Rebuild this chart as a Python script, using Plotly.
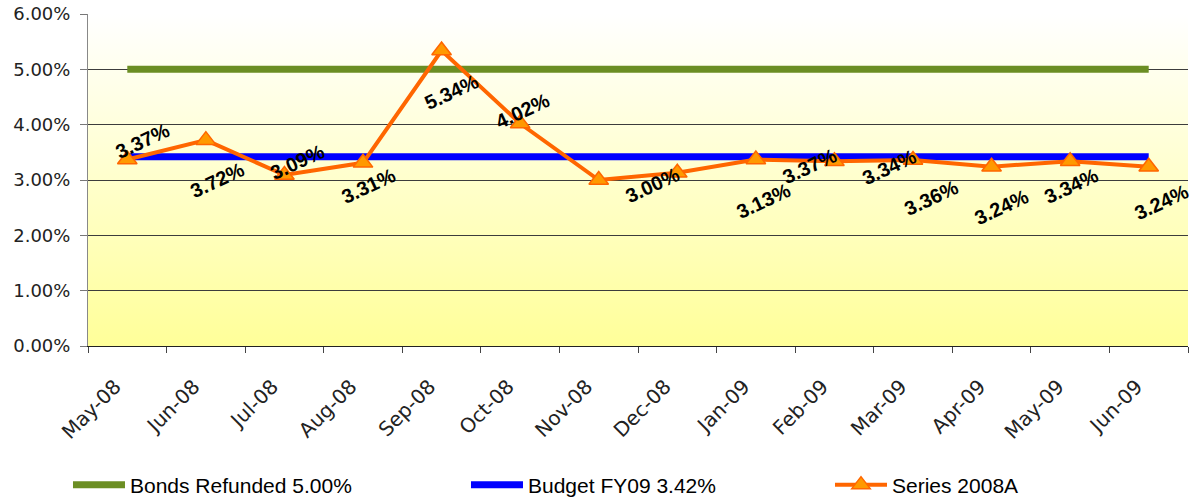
import base64

import plotly.graph_objects as go

# Data -------------------------------------------------------------------------

months = [
    "May-08", "Jun-08", "Jul-08", "Aug-08", "Sep-08", "Oct-08", "Nov-08",
    "Dec-08", "Jan-09", "Feb-09", "Mar-09", "Apr-09", "May-09", "Jun-09",
]
bonds_refunded = [5.00, 5.00, 5.00, 5.00, 5.00, 5.00, 5.00,
                  5.00, 5.00, 5.00, 5.00, 5.00, 5.00, 5.00]
budget_fy09 = [3.42, 3.42, 3.42, 3.42, 3.42, 3.42, 3.42,
               3.42, 3.42, 3.42, 3.42, 3.42, 3.42, 3.42]
series_2008a = [3.37, 3.72, 3.09, 3.31, 5.34, 4.02, 3.00,
                3.13, 3.37, 3.34, 3.36, 3.24, 3.34, 3.24]
y_ticks = [0, 1, 2, 3, 4, 5, 6]
y_tick_labels = ["0.00%", "1.00%", "2.00%", "3.00%", "4.00%", "5.00%", "6.00%"]

# Visual tokens ----------------------------------------------------------------

_FONT_AXIS = "DejaVu Sans, Verdana, sans-serif"
_FONT_LABEL = "Arial, Liberation Sans, sans-serif"
_GREEN = "#6b8e23"
_BLUE = "#0000ff"
_ORANGE = "#ff6600"
_ORANGE_FILL = "#ff9900"
_GRID = "#3c3c3c"

# Excel placed the rotated data labels a bit everywhere; pixel shifts (dx, dy)
_LABEL_SHIFTS = [
    (15, -19), (12, 40), (13, -13), (5, 23), (10, 41), (2, -13), (54, 5),
    (86, 28), (54, 6), (55, 6), (18, 38), (10, 40), (1, 25), (13, 35),
]

# plot-area gradient, white at the top to pale yellow at the bottom
_bg_svg = (
    '<svg xmlns="http://www.w3.org/2000/svg" width="100" height="100" '
    'preserveAspectRatio="none"><defs><linearGradient id="g" x1="0" y1="0" '
    'x2="0" y2="1"><stop offset="0" stop-color="#ffffff"/>'
    '<stop offset="1" stop-color="#ffff99"/></linearGradient></defs>'
    '<rect width="100" height="100" fill="url(#g)"/></svg>'
)
_bg_uri = "data:image/svg+xml;base64," + base64.b64encode(_bg_svg.encode()).decode()

fig = go.Figure()

fig.add_trace(go.Scatter(
    x=months, y=bonds_refunded, mode="lines", name="Bonds Refunded 5.00%",
    line=dict(color=_GREEN, width=7), legend="legend",
))
fig.add_trace(go.Scatter(
    x=months, y=budget_fy09, mode="lines", name="Budget FY09 3.42%",
    line=dict(color=_BLUE, width=7), legend="legend2",
))
fig.add_trace(go.Scatter(
    x=months, y=series_2008a, mode="lines+markers", name="Series 2008A",
    line=dict(color=_ORANGE, width=4),
    marker=dict(symbol="triangle-up", size=17, color=_ORANGE_FILL,
                line=dict(color=_ORANGE, width=1.5)),
    legend="legend3",
))

# Rotated value labels.
for m, v, (dx, dy) in zip(months, series_2008a, _LABEL_SHIFTS):
    fig.add_annotation(
        x=m, y=v, text=f"{v:.2f}%", showarrow=False,
        xshift=dx, yshift=-dy, textangle=-25,
        font=dict(family=_FONT_LABEL, size=20, color="#000000", weight="bold"),
    )

fig.update_xaxes(
    type="category",
    range=[-0.5, len(months) - 0.5],
    tickson="boundaries",
    ticks="outside", ticklen=6, tickcolor="#444444",
    showline=True, linecolor="#222222", linewidth=1,
    showgrid=False, zeroline=False,
    tickangle=-45,
    ticklabelstandoff=20, ticklabelshift=-12,
    tickfont=dict(family=_FONT_AXIS, size=20, color="#222222"),
    automargin=False,
)
fig.update_yaxes(
    range=[0, 6], tickvals=y_ticks, ticktext=y_tick_labels,
    ticks="outside", ticklen=7, tickcolor="#777777",
    showline=True, linecolor="#888888", linewidth=1,
    showgrid=True, gridcolor=_GRID, gridwidth=1, zeroline=False,
    ticklabelstandoff=6,
    tickfont=dict(family=_FONT_AXIS, size=18, color="#222222"),
    automargin=False,
)

_legend_common = dict(
    orientation="h", xref="container", yref="container",
    yanchor="middle", y=0.03, xanchor="left",
    bgcolor="rgba(0,0,0,0)", borderwidth=0, itemwidth=52,
    font=dict(family=_FONT_LABEL, size=21, color="#000000"),
)
fig.update_layout(
    width=1197, height=500,
    margin=dict(l=88, r=9, t=14, b=154),
    paper_bgcolor="white", plot_bgcolor="rgba(0,0,0,0)",
    showlegend=True,
    legend=dict(x=0.0568, **_legend_common),
    legend2=dict(x=0.3893, **_legend_common),
    legend3=dict(x=0.6934, **_legend_common),
    images=[dict(
        source=_bg_uri, xref="paper", yref="paper", x=0, y=1,
        sizex=1, sizey=1, sizing="stretch", layer="below",
        xanchor="left", yanchor="top",
    )],
)

# drop the page's default body margin so the figure sits at the window origin
fig.write_html(
    "out.html",
    config={"displayModeBar": False},
    post_script="document.body.style.margin = '0';",
)
